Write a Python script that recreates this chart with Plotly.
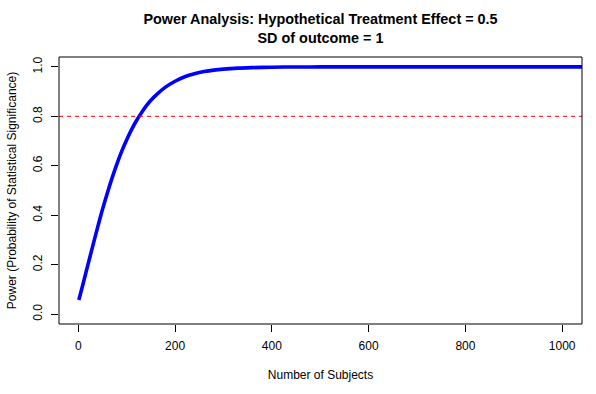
import plotly.graph_objects as go

# Values
n_subjects = [1, 10, 20, 30, 40, 50, 60, 70, 80, 90, 100, 110, 120, 130, 140, 150,
              160, 180, 200, 220, 240, 260, 280, 300, 330, 360, 400, 450, 500, 600,
              700, 800, 900, 1000, 1100]
power = [0.057, 0.124, 0.201, 0.277, 0.352, 0.424, 0.490, 0.552, 0.609, 0.660, 0.705,
         0.746, 0.782, 0.813, 0.841, 0.865, 0.885, 0.918, 0.942, 0.960, 0.972, 0.981,
         0.987, 0.991, 0.995, 0.997, 0.9988, 0.9996, 0.9999, 1.0, 1.0, 1.0, 1.0, 1.0, 1.0]
target_power = 0.8

x_ticks = [0, 200, 400, 600, 800, 1000]
y_ticks = [0.0, 0.2, 0.4, 0.6, 0.8, 1.0]
y_ticklabels = ["0.0", "0.2", "0.4", "0.6", "0.8", "1.0"]

font = "Liberation Sans, Arial, Helvetica, sans-serif"

fig = go.Figure()
fig.add_trace(go.Scatter(x=n_subjects, y=power, mode="lines",
                         line=dict(color="#0000ff", width=3.6, shape="spline", smoothing=0.8),
                         showlegend=False))

fig.add_shape(type="line", xref="paper", x0=0, x1=1, yref="y", y0=target_power, y1=target_power,
              line=dict(color="#ff0000", width=1, dash="4px,4px"))
# plot box
fig.add_shape(type="rect", xref="paper", yref="paper", x0=0, x1=1, y0=0, y1=1,
              line=dict(color="black", width=1), fillcolor="rgba(0,0,0,0)", layer="above")

fig.update_layout(
    width=596, height=394,
    margin=dict(l=59, r=14, t=57, b=70),
    paper_bgcolor="white", plot_bgcolor="white",
    font=dict(family=font, size=12, color="black"),
    title=dict(text="<b>Power Analysis: Hypothetical Treatment Effect = 0.5<br>SD of outcome = 1</b>",
               x=(59 + 582) / 2 / 596, xanchor="center", xref="container",
               y=1 - 24 / 394, yanchor="middle", yref="container",
               font=dict(size=14.4, family=font, color="black")),
    xaxis=dict(range=[-39.96, 1040.96], tickvals=x_ticks, ticks="outside", ticklen=7,
               tickcolor="black", showline=False,
               showgrid=False, zeroline=False, ticklabelstandoff=4,
               title=dict(text="Number of Subjects", standoff=18, font=dict(size=12))),
    yaxis=dict(range=[-0.04, 1.04], tickvals=y_ticks, ticktext=y_ticklabels, tickangle=-90,
               ticks="outside", ticklen=7, tickcolor="black", showline=False,
               showgrid=False, zeroline=False, ticklabelstandoff=4,
               title=dict(text="Power (Probability of Statistical Significance)", standoff=12,
                          font=dict(size=12))),
)

fig.write_html("out.html", config={"displayModeBar": False},
               post_script="document.body.style.margin='0';document.body.style.padding='0';")
